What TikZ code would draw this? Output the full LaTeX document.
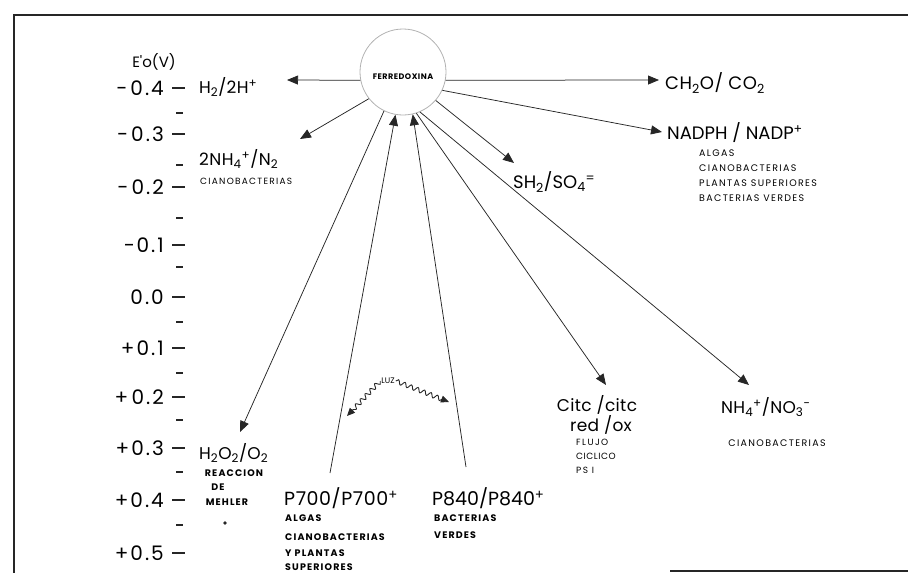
\documentclass[tikz,border=0pt]{standalone}
\usepackage{fontspec}
\setmainfont{Poppins}
\usetikzlibrary{arrows.meta,decorations.pathmorphing}
\newcommand\fsz[1]{\fontsize{#1}{#1}\selectfont}
\tikzset{
  big/.style={inner sep=0pt, anchor=west, font=\fsz{17}\addfontfeature{LetterSpace=2}},
  axl/.style={inner sep=0pt, anchor=east, font=\fsz{20}\addfontfeature{LetterSpace=10}},
  sm/.style={inner sep=0pt, anchor=west, font=\fsz{9.5}\addfontfeature{LetterSpace=14}},
  smb/.style={sm, font=\fsz{9.5}\bfseries\addfontfeature{LetterSpace=12}},
  con/.style={draw=black!85, line width=0.75pt, -{Triangle[length=11pt,width=9pt]}},
  tickmark/.style={draw=black!85, line width=1.4pt},
  wavy/.style={draw=black!85, line width=0.9pt, -{Triangle[length=8pt,width=7pt]},
    decorate, decoration={snake, amplitude=2.2pt, segment length=7pt, post length=6pt}},
  frame/.style={draw=black!85, line width=1.6pt}
}
\begin{document}
\begin{tikzpicture}[x=1pt,y=-1pt]
\useasboundingbox (0,0) rectangle (908,573);
% frame
\draw[frame] (908,15) -- (14,15) -- (14,573);
\draw[frame] (670,571) -- (908,571);
% axis
\node[inner sep=0pt, font=\fsz{15}] (eo) at (154,62) {E\textquotesingle o(V)};
\foreach \t/\yy [count=\i] in {−\,0.4/88, −\,0.3/134, −\,0.2/187, −0.1/245, 0.0/297, +0.1/348, +\,0.2/397, +0.3/448, +0.4/500, +0.5/553}{
  \node[axl] (ax\i) at (164,\yy) {\t};
  \draw[tickmark] (172,\yy) -- (185,\yy);
}
\foreach \yy in {113,165,218,267,322,373,420,472,525}{
  \draw[tickmark] (176,\yy) -- (183,\yy);
}
% ferredoxina
\node[circle, draw=gray!60, line width=0.8pt, minimum size=86pt, inner sep=0pt] (fd) at (403,72) {};
\node[inner sep=0pt, font=\fsz{8}\bfseries\addfontfeature{LetterSpace=6}] (fdt) at (403,77) {FERREDOXINA};
% targets
\node[big] (h2) at (199,87) {H\textsubscript{2}/2H\textsuperscript{+}};
\coordinate (h2tip) at (287,80);
\node[big, font=\fsz{17}\addfontfeature{LetterSpace=3}] (nh4) at (199,159) {2NH\textsubscript{4}\textsuperscript{+}/N\textsubscript{2}};
\node[sm, font=\fsz{9}\addfontfeature{LetterSpace=14}] (nh4c) at (200,181) {CIANOBACTERIAS};
\coordinate (nh4tip) at (300,139);
\node[big, font=\fsz{18}\addfontfeature{LetterSpace=3}] (ch2o) at (665,83) {CH\textsubscript{2}O/ CO\textsubscript{2}};
\coordinate (ch2otip) at (659,80);
\node[big, font=\fsz{18}] (nadp) at (667,133) {NADPH / NADP\textsuperscript{+}};
\coordinate (nadptip) at (662,132);
\node[sm] (nadp1) at (699,153) {ALGAS};
\node[sm] (nadp2) at (699,168) {CIANOBACTERIAS};
\node[sm] (nadp3) at (699,183) {PLANTAS SUPERIORES};
\node[sm] (nadp4) at (699,198) {BACTERIAS VERDES};
\node[big, font=\fsz{18}] (sh2) at (513,182) {SH\textsubscript{2}/SO\textsubscript{4}\textsuperscript{=}};
\coordinate (sh2tip) at (514,163);
\node[big, anchor=center] (citc) at (597,405) {Citc /citc};
\node[big, anchor=center] (redox) at (601,425) {red /ox};
\node[sm, font=\fsz{9}\addfontfeature{LetterSpace=16}] (cit1) at (576,442) {FLUJO};
\node[sm, font=\fsz{9}\addfontfeature{LetterSpace=6}] (cit2) at (576,456) {CICLICO};
\node[sm, font=\fsz{9}\addfontfeature{LetterSpace=16}] (cit3) at (576,470) {PS I};
\coordinate (citctip) at (606,385);
\node[big] (no3) at (721,407) {NH\textsubscript{4}\textsuperscript{+}/NO\textsubscript{3}\textsuperscript{−}};
\node[sm, anchor=center] (no3c) at (777,443) {CIANOBACTERIAS};
\coordinate (no3tip) at (749,385);
\node[big] (h2o2) at (199,453) {H\textsubscript{2}O\textsubscript{2}/O\textsubscript{2}};
\node[smb, anchor=center] (h2o2a) at (234,473) {REACCION};
\node[smb, anchor=center] (h2o2b) at (218,487) {DE};
\node[smb, anchor=center] (h2o2c) at (227,502) {MEHLER};
\fill[black!85] (225,523) circle (1.8pt);
\coordinate (h2o2tip) at (240,432);
\node[big, font=\fsz{19}\addfontfeature{LetterSpace=3}] (p700) at (284,498) {P700/P700\textsuperscript{+}};
\node[smb] (p7001) at (285,518) {ALGAS};
\node[smb] (p7002) at (285,537) {CIANOBACTERIAS};
\node[smb] (p7003) at (285,553) {Y PLANTAS};
\node[smb] (p7004) at (285,567) {SUPERIORES};
\coordinate (p700s) at (330,473);
\node[big, font=\fsz{19}] (p840) at (432,498) {P840/P840\textsuperscript{+}};
\node[smb] (p8401) at (434,518) {BACTERIAS};
\node[smb] (p8402) at (434,535) {VERDES};
\coordinate (p840s) at (466,467);
% connectors
\draw[con] (fd.191) -- (h2tip);
\draw[con] (fd.349) -- (ch2otip);
\draw[con] (fd.335) -- (nadptip);
\draw[con] (fd.218) -- (nh4tip);
\draw[con] (fd.319) -- (sh2tip);
\draw[con] (fd.288) -- (citctip);
\draw[con] (fd.293) -- (no3tip);
\draw[con] (fd.244) -- (h2o2tip);
\draw[con] (p700s) -- (fd.260);
\draw[con] (p840s) -- (fd.283);
% luz
\node[inner sep=1pt, font=\fsz{8}] (luz) at (388,381) {LUZ};
\coordinate (luzl) at (347,416);
\coordinate (luzr) at (449,402);
\draw[wavy] (luz.west) -- (luzl);
\draw[wavy] (luz.east) -- (luzr);
\end{tikzpicture}
\end{document}
